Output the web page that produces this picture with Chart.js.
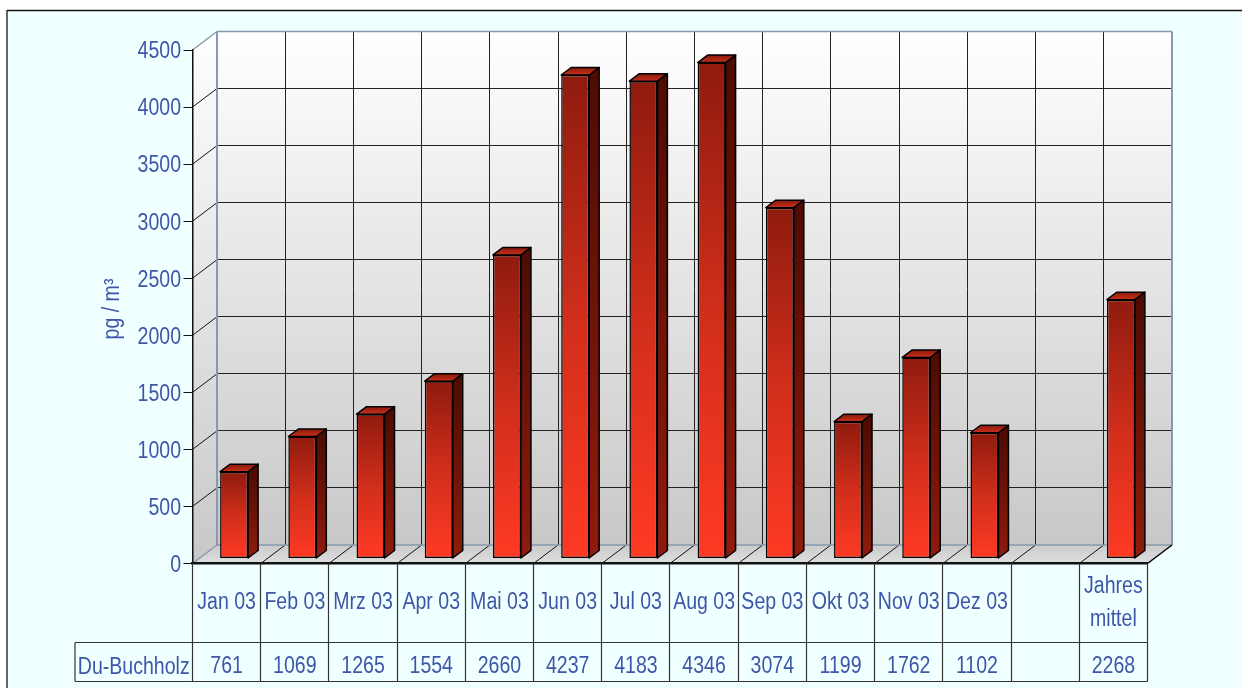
<!DOCTYPE html>
<html>
<head>
<meta charset="utf-8">
<title>Du-Buchholz</title>
<script src="https://cdn.jsdelivr.net/npm/chart.js@4"></script>
<style>
  html, body { margin: 0; padding: 0; background: #fff; }
  canvas { display: block; }
</style>
</head>
<body>
<canvas id="grafico" width="1242" height="688"></canvas>
<script>
// data
const categories = ['Jan 03', 'Feb 03', 'Mrz 03', 'Apr 03', 'Mai 03', 'Jun 03', 'Jul 03', 'Aug 03', 'Sep 03', 'Okt 03', 'Nov 03', 'Dez 03', '', ['Jahres', 'mittel']];
const values = [761, 1069, 1265, 1554, 2660, 4237, 4183, 4346, 3074, 1199, 1762, 1102, null, 2268];
const seriesName = 'Du-Buchholz';
const yTicks = [0, 500, 1000, 1500, 2000, 2500, 3000, 3500, 4000, 4500];
const yTitle = 'pg / m³';

// 3D look
const depth = { x: 24.5, y: -18.5 };      // floor depth of the box
const barShift = { x: 7.5, y: -5 };       // where the bars stand on the floor
const barDepth = { x: 10, y: -7.5 };
const textColor = '#3d57a8';
const fontName = '"Liberation Sans", Arial, sans-serif';
const textSqueeze = 0.85;                 // the original text is narrow
const edgeColor = '#8a98ae';

function line(ctx, x1, y1, x2, y2, color, width) {
    ctx.strokeStyle = color;
    ctx.lineWidth = width;
    ctx.beginPath();
    ctx.moveTo(x1, y1);
    ctx.lineTo(x2, y2);
    ctx.stroke();
}

function poly(ctx, pts, fill) {
    ctx.fillStyle = fill;
    ctx.beginPath();
    pts.forEach((p, i) => i ? ctx.lineTo(p[0], p[1]) : ctx.moveTo(p[0], p[1]));
    ctx.closePath();
    ctx.fill();
}

function vGrad(ctx, y1, y2, c1, c2, c3) {
    const g = ctx.createLinearGradient(0, y1, 0, y2);
    g.addColorStop(0, c1);
    if (c3) { g.addColorStop(0.5, c2); g.addColorStop(1, c3); }
    else g.addColorStop(1, c2);
    return g;
}

// keep thin lines on the pixel grid
function snap(v) {
    return Math.floor(v) + 0.5;
}

// narrow text, x is squeezed around the anchor
function label(ctx, text, x, y, align, size) {
    ctx.save();
    ctx.translate(x, y);
    ctx.scale(textSqueeze, 1);
    ctx.fillStyle = textColor;
    ctx.font = (size || 23) + 'px ' + fontName;
    ctx.textAlign = align || 'center';
    ctx.textBaseline = 'middle';
    ctx.fillText(text, 0, 0);
    ctx.restore();
}

// background, back wall, left wall, floor
const boxPlugin = {
    id: 'box',
    beforeDraw(chart) {
        const { ctx, chartArea: a, scales: { x, y } } = chart;
        const step = x.getPixelForValue(1) - x.getPixelForValue(0);
        const backL = a.left + depth.x, backR = a.right + depth.x;
        const backT = a.top + depth.y, backB = a.bottom + depth.y;

        ctx.save();
        ctx.fillStyle = '#f0ffff';
        ctx.fillRect(7, 10, chart.width, chart.height);
        line(ctx, 7, 10.5, chart.width, 10.5, '#111', 1.5);
        line(ctx, 7, 10, 7, chart.height, '#333', 1.5);

        const wall = vGrad(ctx, backT, backB, '#ffffff', '#c8c8c8');
        poly(ctx, [[backL, backT], [backR, backT], [backR, backB], [backL, backB]], wall);
        poly(ctx, [[a.left, a.top], [backL, backT], [backL, backB], [a.left, a.bottom]], vGrad(ctx, backT, a.bottom, '#ffffff', '#c8c8c8'));
        poly(ctx, [[a.left, a.bottom], [backL, backB], [backR, backB], [a.right, a.bottom]], vGrad(ctx, backB, a.bottom, '#cbcbcb', '#dedede'));

        // horizontal grid on both walls
        yTicks.forEach(t => {
            const py = y.getPixelForValue(t);
            if (t > 0 && t < 4500) {
                line(ctx, a.left, py, backL, py + depth.y, '#111', 1);
                line(ctx, backL, snap(py + depth.y), backR, snap(py + depth.y), '#222', 1);
            }
        });
        // vertical grid on the wall and floor
        for (let i = 1; i < categories.length; i++) {
            const px = a.left + step * i;
            line(ctx, snap(px + depth.x), backT, snap(px + depth.x), backB, '#222', 1);
            line(ctx, px, a.bottom, px + depth.x, backB, '#111', 1);
        }
        // box edges
        line(ctx, backL, backT, backR, backT, edgeColor, 1.5);
        line(ctx, backL, backB, backR, backB, edgeColor, 1.5);
        line(ctx, backL, backT, backL, backB, edgeColor, 2);
        line(ctx, backR, backT, backR, backB, edgeColor, 2);
        line(ctx, a.left, a.top, backL, backT, edgeColor, 1.5);
        line(ctx, a.left, a.bottom, backL, backB, edgeColor, 1.5);
        line(ctx, a.right, a.bottom, backR, backB, '#000', 1.5);
        ctx.restore();
    },
    // bars stand a little back on the floor, side and top faces go behind the front
    beforeDatasetsDraw(chart) {
        const { ctx } = chart;
        const bars = chart.getDatasetMeta(0).data;
        ctx.save();
        ctx.translate(barShift.x, barShift.y);
        ctx.strokeStyle = '#000';
        ctx.lineWidth = 1.5;
        ctx.lineJoin = 'round';
        bars.forEach((b, i) => {
            if (values[i] === null) return;
            const r = b.x + b.width / 2, l = b.x - b.width / 2;
            const dx = barDepth.x, dy = barDepth.y;
            const side = [[r, b.y], [r + dx, b.y + dy], [r + dx, b.base + dy], [r, b.base]];
            const top = [[l, b.y], [l + dx, b.y + dy], [r + dx, b.y + dy], [r, b.y]];
            poly(ctx, side, vGrad(ctx, b.y, b.base, '#4e0c03', '#8f1c0d'));
            ctx.stroke();
            poly(ctx, top, vGrad(ctx, b.y + dy, b.y, '#8a1a0c', '#c9301c'));
            ctx.stroke();
        });
    },
    afterDatasetsDraw(chart) {
        chart.ctx.restore();
    },
    // axis text and the small table under the chart
    afterDraw(chart) {
        const { ctx, chartArea: a, scales: { x, y } } = chart;
        const step = x.getPixelForValue(1) - x.getPixelForValue(0);
        const rowTop = a.bottom, rowMid = 642.5, rowEnd = 681.5, leftEnd = 75;
        const tableColor = '#333';
        ctx.save();
        for (let i = 0; i <= categories.length; i++) {
            const px = snap(a.left + step * i);
            line(ctx, px, rowTop, px, rowEnd, tableColor, 1.2);
        }
        line(ctx, leftEnd, rowMid, a.right, rowMid, tableColor, 1.2);
        line(ctx, leftEnd, rowEnd, a.right, rowEnd, tableColor, 1.2);
        line(ctx, leftEnd, rowMid, leftEnd, rowEnd, tableColor, 1.2);

        categories.forEach((c, i) => {
            const px = x.getPixelForValue(i);
            if (Array.isArray(c)) {
                label(ctx, c[0], px, 587);
                label(ctx, c[1], px, 620);
            } else {
                label(ctx, c, px, 603);
            }
            if (values[i] !== null) label(ctx, String(values[i]), px, 667);
        });
        label(ctx, seriesName, (leftEnd + a.left) / 2, 668);

        yTicks.forEach(t => label(ctx, String(t), 181, y.getPixelForValue(t) + 2, 'right'));

        ctx.translate(113, 309);
        ctx.rotate(-Math.PI / 2);
        label(ctx, yTitle, 0, 0);
        ctx.restore();
    }
};

new Chart(document.getElementById('grafico'), {
    type: 'bar',
    data: {
        labels: categories,
        datasets: [{
            label: seriesName,
            data: values,
            clip: false,
            barPercentage: 0.41,
            categoryPercentage: 1,
            borderColor: '#000',
            borderWidth: 1.5,
            borderSkipped: false,
            backgroundColor(c) {
                const s = c.chart.scales.y;
                const raw = c.raw;
                if (!s || raw === null || raw === undefined) return '#c0281a';
                const top = s.getPixelForValue(raw), base = s.getPixelForValue(0);
                if (!isFinite(top) || !isFinite(base)) return '#c0281a';
                return vGrad(c.chart.ctx, top, base, '#8f1b0e', '#d02e1b', '#ff3a24');
            }
        }]
    },
    options: {
        responsive: false,
        devicePixelRatio: 1,
        animation: false,
        layout: { padding: { left: 0, top: 50, right: 94.5, bottom: 124.5 } },
        plugins: { legend: { display: false }, title: { display: false }, tooltip: { enabled: false } },
        scales: {
            x: {
                grid: { display: false, drawTicks: false },
                border: { display: true, color: '#111', width: 2.5 },
                ticks: { display: false },
                afterFit(s) { s.height = 0; }
            },
            y: {
                min: 0,
                max: 4500,
                afterBuildTicks(s) { s.ticks = yTicks.map(v => ({ value: v })); },
                afterFit(s) { s.width = 192.5; },
                grid: { drawOnChartArea: false, color: '#111', tickLength: 9 },
                border: { display: true, color: '#111', width: 1.5 },
                ticks: { display: false }
            }
        }
    },
    plugins: [boxPlugin]
});
</script>
</body>
</html>
